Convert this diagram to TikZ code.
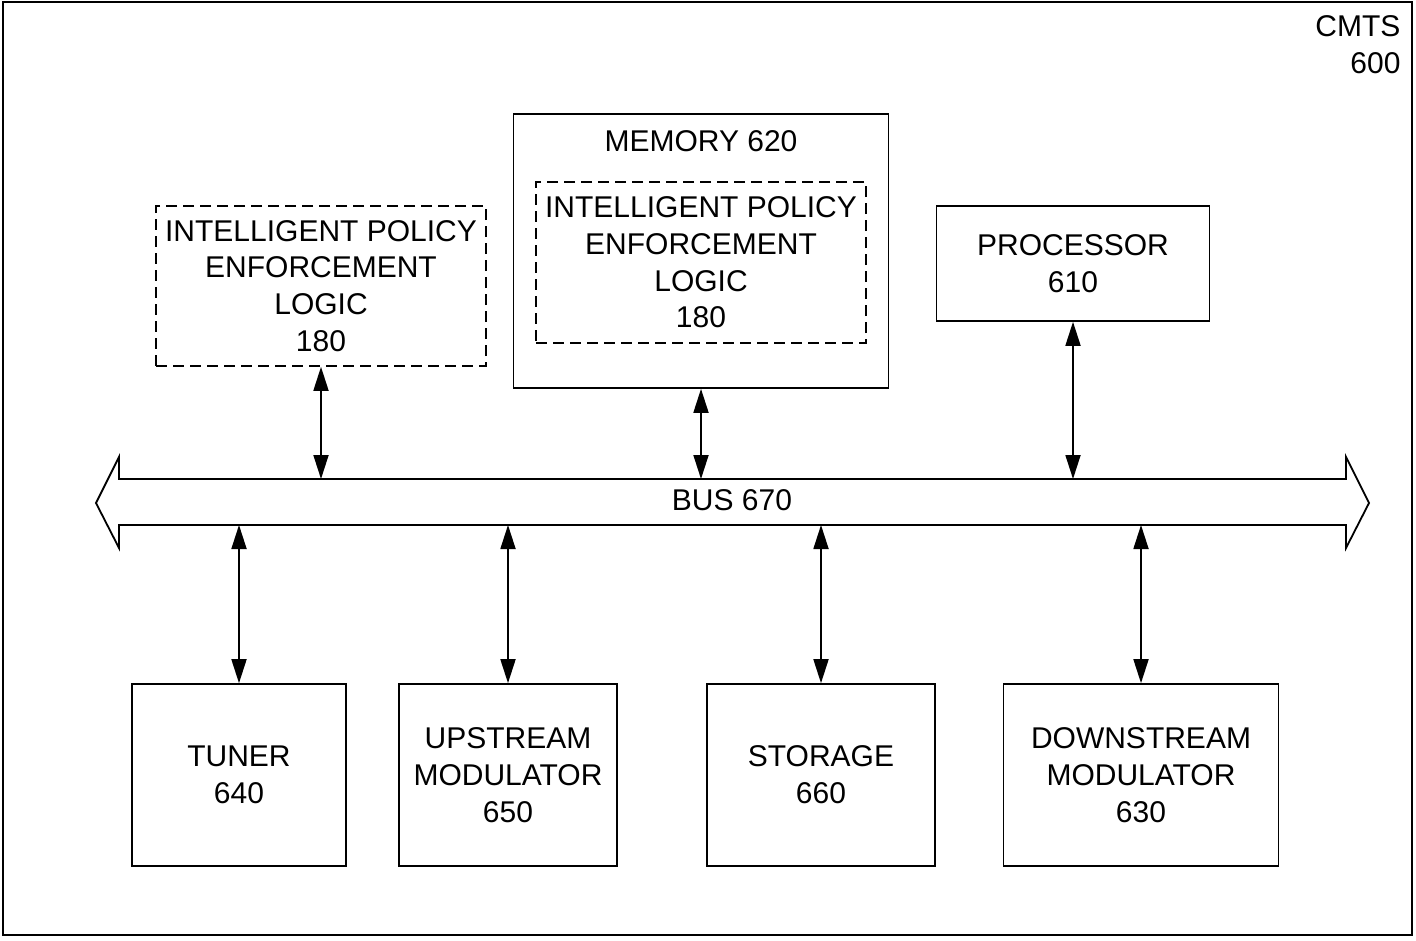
\documentclass[tikz,border=0pt]{standalone}
\usepackage{fontspec}
\setmainfont{Liberation Sans}
\usetikzlibrary{arrows.meta}
\begin{document}
\begin{tikzpicture}[x=1pt,y=-1pt,
  lbl/.style={font=\fontsize{30}{36.7}\selectfont, align=center},
  solidbox/.style={draw, line width=1.7pt, inner sep=0pt, lbl},
  dashbox/.style={draw, line width=1.7pt, dash pattern=on 11pt off 6pt, inner sep=0pt, lbl},
  biarrow/.style={line width=1.8pt, {Triangle[length=24pt,width=15pt]}-{Triangle[length=24pt,width=15pt]}}
]
\useasboundingbox (0,0) rectangle (1416,940);
% outer frame
\draw[line width=2pt] (3,2) rectangle (1412,935);
\node[lbl, anchor=north east, align=right] (cmts) at (1404,12) {CMTS\\600};

% top row
\node[dashbox, minimum width=330pt, minimum height=160pt] (ipel) at (321,286)
  {INTELLIGENT POLICY\\ENFORCEMENT\\LOGIC\\180};
\node[solidbox, minimum width=375pt, minimum height=274pt] (mem) at (701,251) {};
\node[lbl, anchor=base] (memlbl) at (701,151) {MEMORY 620};
\node[dashbox, minimum width=330pt, minimum height=161pt] (ipel2) at (701,262.5)
  {INTELLIGENT POLICY\\ENFORCEMENT\\LOGIC\\180};
\node[solidbox, minimum width=273pt, minimum height=115pt] (proc) at (1073,263.5)
  {PROCESSOR\\610};

% bottom row
\node[solidbox, minimum width=214pt, minimum height=182pt] (tuner) at (239,775)
  {TUNER\\640};
\node[solidbox, minimum width=218pt, minimum height=182pt] (up) at (508,775)
  {UPSTREAM\\MODULATOR\\650};
\node[solidbox, minimum width=228pt, minimum height=182pt] (stor) at (821,775)
  {STORAGE\\660};
\node[solidbox, minimum width=275pt, minimum height=182pt] (down) at (1141,775)
  {DOWNSTREAM\\MODULATOR\\630};

% bus
\draw[line width=1.8pt, line join=miter]
  (96,503) -- (119,457) -- (119,479) -- (1346,479) -- (1346,457) -- (1369,503)
  -- (1346,548) -- (1346,525) -- (119,525) -- (119,548) -- cycle;
\node[lbl] (bus) at (732,500) {BUS 670};
\coordinate (bustop) at (0,479);
\coordinate (busbot) at (0,525);

% connectors
\draw[biarrow] (ipel.south) -- (ipel.south |- bustop);
\draw[biarrow] (mem.south) -- (mem.south |- bustop);
\draw[biarrow] (proc.south) -- (proc.south |- bustop);
\draw[biarrow] (tuner.north) -- (tuner.north |- busbot);
\draw[biarrow] (up.north) -- (up.north |- busbot);
\draw[biarrow] (stor.north) -- (stor.north |- busbot);
\draw[biarrow] (down.north) -- (down.north |- busbot);
\end{tikzpicture}
\end{document}
